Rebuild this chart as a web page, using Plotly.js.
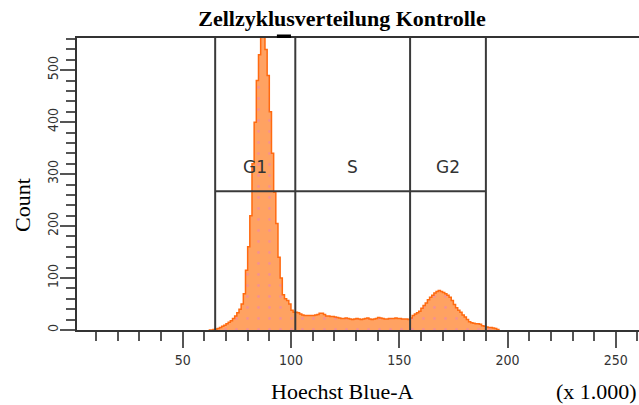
<!DOCTYPE html>
<html>
<head>
<meta charset="utf-8">
<script src="https://cdn.plot.ly/plotly-3.0.1.min.js"></script>
<style>html,body{margin:0;padding:0;background:#fff;}#chart{width:639px;height:405px;}</style>
</head>
<body>
<div id="chart"></div>
<script>
// Hoechst Blue-A channel (x 1.000) and event counts
const channels = [62,63,64,65,66,67,68,69,70,71,72,73,74,75,76,77,78,79,80,81,82,83,84,85,86,87,88,89,90,91,92,93,94,95,96,97,98,99,100,101,102,103,104,105,106,107,108,109,110,111,112,113,114,115,116,117,118,119,120,121,122,123,124,125,126,127,128,129,130,131,132,133,134,135,136,137,138,139,140,141,142,143,144,145,146,147,148,149,150,151,152,153,154,155,156,157,158,159,160,161,162,163,164,165,166,167,168,169,170,171,172,173,174,175,176,177,178,179,180,181,182,183,184,185,186,187,188,189,190,191,192,193,194,195,196];
const counts = [0,0,1,2,3,5,7,9,12,15,18,22,27,33,40,50,70,115,160,220,320,400,480,530,575,565,540,490,420,340,265,205,140,100,68,60,57,50,38,34,34,33,31,29,28,28,28,28,28,29,30,32,32,30,27,27,26,26,25,24,23,22,22,23,22,21,20,21,22,21,20,21,22,23,21,20,21,22,24,23,22,21,21,22,22,22,23,22,22,21,21,21,20,23,28,31,33,36,42,47,52,58,63,67,71,74,76,74,72,70,67,63,57,49,43,38,34,29,25,20,16,14,13,12,12,11,8,7,6,5,5,4,3,1,0];

// Gates (cell-cycle phases)
const gateNames = ["G1", "S", "G2"];
const gateBounds = [65, 102, 155, 190];
const gateLevel = 267;
const gateLabelLevel = 313;

const titleText = "Zellzyklusverteilung Kontrolle";
const xTitle = "Hoechst Blue-A";
const xUnit = "(x 1.000)";
const yTitle = "Count";

const xRange = [1.2, 260.7];
const yRange = [0, 562];

const lineCol = "#333";
const shapes = [];
gateBounds.forEach(b => shapes.push({type:"line", xref:"x", yref:"paper", x0:b, x1:b, y0:0, y1:1, line:{color:"#3a3a3a", width:2}}));
shapes.push({type:"line", xref:"x", yref:"y", x0:gateBounds[0], x1:gateBounds[gateBounds.length-1], y0:gateLevel, y1:gateLevel, line:{color:"#3a3a3a", width:2}});
shapes.push({type:"rect", xref:"x", yref:"paper", x0:93.5, x1:100, y0:1.0, y1:1.012, fillcolor:"#000", line:{width:0}});

const annotations = [];
gateNames.forEach((g, i) => annotations.push({
  x:(gateBounds[i] + gateBounds[i+1]) / 2, y:gateLabelLevel, xref:"x", yref:"y",
  text:g, showarrow:false, font:{family:"DejaVu Sans", size:17, color:"#333"}
}));
annotations.push({xref:"paper", yref:"paper", x:(342-77)/562, y:-(391-330)/292, text:xTitle, showarrow:false, xanchor:"center", yanchor:"middle", font:{family:"Liberation Serif", size:22, color:"#000"}});
annotations.push({xref:"paper", yref:"paper", x:(596-77)/562, y:-(391-330)/292, text:xUnit, showarrow:false, xanchor:"center", yanchor:"middle", font:{family:"Liberation Serif", size:22, color:"#000"}});
annotations.push({xref:"paper", yref:"paper", x:-(77-22)/562, y:(330-205)/292, text:yTitle, showarrow:false, textangle:-90, xanchor:"center", yanchor:"middle", font:{family:"Liberation Serif", size:22, color:"#000"}});

const trace = {
  x: channels, y: counts, type:"scatter", mode:"lines",
  line:{color:"#FF6A10", width:1.5, shape:"hv"},
  fill:"tozeroy", fillcolor:"#FFA262",
  fillpattern:{shape:".", fgcolor:"#F59090", bgcolor:"#FFA262", size:11, solidity:0.05},
  hoverinfo:"x+y"
};

const tickFont = {family:"DejaVu Sans Condensed, DejaVu Sans", size:14, color:"#333"};
const layout = {
  width:639, height:405,
  margin:{l:77, r:0, t:38, b:75, pad:0},
  paper_bgcolor:"#fff", plot_bgcolor:"#fff",
  showlegend:false,
  title:{text:"<b>"+titleText+"</b>", xref:"container", yref:"container", x:342/639, y:1-18/405, xanchor:"center", yanchor:"middle", font:{family:"Liberation Serif", size:22, color:"#000"}},
  xaxis:{range:xRange, showgrid:false, zeroline:false, showline:true, linecolor:lineCol, linewidth:2, mirror:true,
    ticks:"outside", tick0:0, dtick:50, ticklen:16, tickwidth:2, tickcolor:"#555", tickfont:tickFont,
    minor:{dtick:10, tick0:0, ticks:"outside", ticklen:9, tickwidth:2, tickcolor:"#555", showgrid:false}},
  yaxis:{range:yRange, showgrid:false, zeroline:false, showline:true, linecolor:lineCol, linewidth:2,
    ticks:"outside", tick0:0, dtick:100, ticklen:15, tickwidth:2, tickcolor:"#555", tickfont:tickFont, tickangle:-90, ticklabelstandoff:-4,
    minor:{dtick:20, tick0:0, ticks:"outside", ticklen:9, tickwidth:2, tickcolor:"#555", showgrid:false}},
  shapes: shapes,
  annotations: annotations
};
Plotly.newPlot("chart", [trace], layout, {displayModeBar:false, staticPlot:true});
</script>
</body>
</html>
